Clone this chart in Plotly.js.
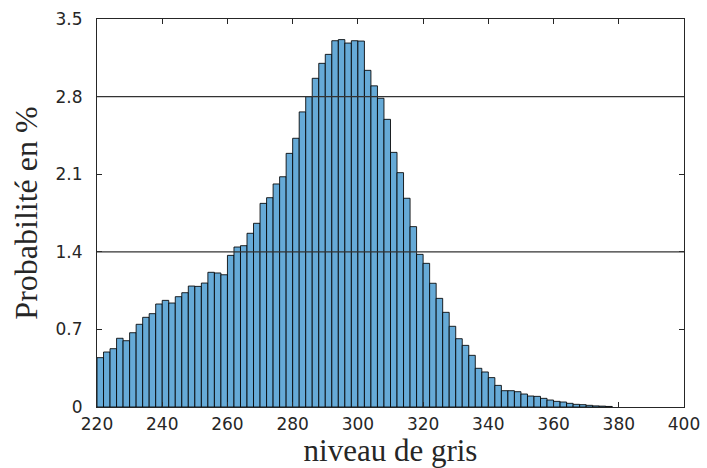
<!DOCTYPE html>
<html>
<head>
<meta charset="utf-8">
<script src="https://cdn.plot.ly/plotly-3.0.1.min.js"></script>
<style>html,body{margin:0;padding:0;background:#fff;}#chart{width:707px;height:468px;}</style>
</head>
<body>
<div id="chart"></div>
<script>
// Left edges of the histogram bins (niveau de gris)
const binStarts = [220,222,224,226,228,230,232,234,236,238,240,242,244,246,248,250,252,254,256,258,
  260,262,264,266,268,270,272,274,276,278,280,282,284,286,288,290,292,294,296,298,
  300,302,304,306,308,310,312,314,316,318,320,322,324,326,328,330,332,334,336,338,
  340,342,344,346,348,350,352,354,356,358,360,362,364,366,368,370,372,374,376];
// Probability (%) per bin
const probabilities = [0.445,0.496,0.526,0.620,0.598,0.670,0.746,0.809,0.842,0.929,
  0.962,0.938,0.995,1.031,1.091,1.088,1.118,1.215,1.209,1.193,
  1.368,1.443,1.455,1.567,1.657,1.837,1.888,2.012,2.077,2.288,
  2.424,2.662,2.800,2.965,3.100,3.181,3.304,3.314,3.283,3.304,
  3.301,3.037,2.897,2.785,2.595,2.297,2.114,1.883,1.627,1.377,
  1.296,1.116,0.980,0.854,0.728,0.616,0.556,0.466,0.349,0.316,
  0.265,0.195,0.147,0.147,0.138,0.117,0.099,0.096,0.078,0.063,
  0.051,0.045,0.033,0.024,0.021,0.015,0.010,0.008,0.005];
const binWidth = 2;
const xTicks = [220,240,260,280,300,320,340,360,380,400];
const yTicks = [0,0.7,1.4,2.1,2.8,3.5];
const yTickText = ['0','0.7','1.4','2.1','2.8','3.5'];
const refLines = [1.4, 2.8];

const trace = {
  type: 'bar',
  x: binStarts,
  y: probabilities,
  width: binStarts.map(() => binWidth),
  offset: 0,
  marker: {color: '#66AAD7', line: {color: 'rgba(0,0,0,0.85)', width: 1}},
  hoverinfo: 'x+y'
};

const axisCommon = {
  showline: true, linecolor: '#262626', linewidth: 1, mirror: 'ticks',
  ticks: 'inside', ticklen: 5, tickwidth: 1, tickcolor: '#262626',
  showgrid: false, zeroline: false,
  tickfont: {family: 'DejaVu Sans', size: 17, color: '#262626'}
};

const layout = {
  width: 707, height: 468,
  margin: {l: 97, r: 23, t: 19, b: 61},
  paper_bgcolor: '#fff', plot_bgcolor: '#fff',
  showlegend: false, bargap: 0,
  xaxis: Object.assign({}, axisCommon, {
    range: [220, 400], tickvals: xTicks, ticklabelstandoff: 2,
    title: {text: 'niveau de gris', font: {family: 'Liberation Serif', size: 31, color: '#262626'}, standoff: 4}
  }),
  yaxis: Object.assign({}, axisCommon, {
    range: [0, 3.5], tickvals: yTicks, ticktext: yTickText, ticklabelstandoff: 10,
    title: {text: 'Probabilité en %', font: {family: 'Liberation Serif', size: 32, color: '#262626'}, standoff: 8}
  }),
  shapes: refLines.map(v => ({
    type: 'line', xref: 'paper', x0: 0, x1: 1, yref: 'y', y0: v, y1: v,
    line: {color: '#333', width: 1.2}, layer: 'above'
  }))
};

Plotly.newPlot('chart', [trace], layout, {displayModeBar: false, staticPlot: true});
</script>
</body>
</html>
